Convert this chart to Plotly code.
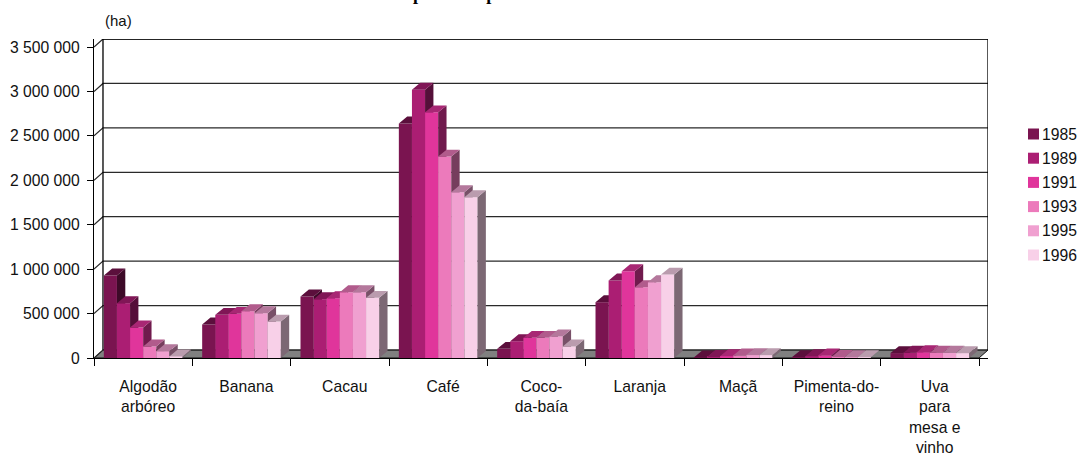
import plotly.graph_objects as go

categories = ["Algodão<br>arbóreo", "Banana", "Cacau", "Café", "Coco-<br>da-baía", "Laranja", "Maçã", "Pimenta-do-<br>reino", "Uva<br>para<br>mesa e<br>vinho"]
years = ["1985", "1989", "1991", "1993", "1995", "1996"]
v1985 = [928000, 377000, 692000, 2640000, 103000, 628000, 6000, 10000, 55000]
v1989 = [617000, 486000, 662000, 3020000, 189000, 872000, 12000, 20000, 60000]
v1991 = [343000, 497000, 673000, 2765000, 227000, 976000, 20000, 30000, 65000]
v1993 = [129000, 527000, 740000, 2267000, 227000, 797000, 28000, 12000, 60000]
v1995 = [77000, 504000, 740000, 1865000, 242000, 853000, 33000, 8000, 60000]
v1996 = [17000, 410000, 677000, 1810000, 129000, 939000, 33000, 8000, 55000]
series = [v1985, v1989, v1991, v1993, v1995, v1996]
colors = ["#7A1450", "#AB1E73", "#E0359B", "#EC7ABB", "#F0A0D0", "#F8D0E8"]
y_ticks = [0, 500000, 1000000, 1500000, 2000000, 2500000, 3000000, 3500000]
y_labels = ["0", "500 000", "1 000 000", "1 500 000", "2 000 000", "2 500 000", "3 000 000", "3 500 000"]

N = len(categories)
WALL_DX, WALL_DY = 0.0914, 90000
BAR_DX, BAR_DY = 0.085, 78000
BAR_W = 0.8 / 6
XMAX, YMAX = N + WALL_DX, 3590000
LABEL_SHIFT = 0.05
FONT = "Liberation Sans, Arial, sans-serif"
L, R, T, B = 94, 90, 39, 97
PW, PH = 1078 - L - R, 455 - T - B


def px(x):
    return (x - L) / PW


def py(y):
    return 1 - (y - T) / PH


def shade(hex_color, f):
    r, g, b = [int(hex_color[i:i + 2], 16) for i in (1, 3, 5)]
    return f"rgb({int(r * f)},{int(g * f)},{int(b * f)})"


fig = go.Figure()

# floor and walls, on the base axes
fig.add_trace(go.Scatter(
    x=[0, N, N + WALL_DX, WALL_DX, 0], y=[0, 0, WALL_DY, WALL_DY, 0],
    mode="lines", fill="toself", fillcolor="#808080", line=dict(color="#111", width=1),
    showlegend=False, hoverinfo="skip"))
gx, gy = [], []
for t in y_ticks:
    gx += [0, WALL_DX, XMAX, None]
    gy += [t, t + WALL_DY, t + WALL_DY, None]
fig.add_trace(go.Scatter(x=gx, y=gy, mode="lines", line=dict(color="#2a2a2a", width=1.2),
                         showlegend=False, hoverinfo="skip"))
fig.add_trace(go.Scatter(
    x=[WALL_DX, WALL_DX, XMAX, XMAX],
    y=[WALL_DY, YMAX, YMAX, WALL_DY],
    mode="lines", line=dict(color="black", width=1.3), showlegend=False, hoverinfo="skip"))

layout_axes = {}
shapes, annotations = [], []
for j, (year, values, color) in enumerate(zip(years, series, colors)):
    n = j + 2
    xa, ya = f"x{n}", f"y{n}"
    off = -0.4 + j * BAR_W
    fig.add_trace(go.Bar(
        x=[i + 0.5 for i in range(N)], y=values, width=BAR_W, offset=off,
        marker=dict(color=color, line=dict(width=0)), name=year, showlegend=False,
        xaxis=xa, yaxis=ya))
    sx, sy, tx, ty = [], [], [], []
    for i, v in enumerate(values):
        left = i + 0.5 + off
        right = left + BAR_W
        sx += [right, right + BAR_DX, right + BAR_DX, right, right, None]
        sy += [0, BAR_DY, v + BAR_DY, v, 0, None]
        tx += [left, right, right + BAR_DX, left + BAR_DX, left, None]
        ty += [v, v, v + BAR_DY, v + BAR_DY, v, None]
    fig.add_trace(go.Scatter(x=sx, y=sy, mode="lines", fill="toself", fillcolor=shade(color, 0.5),
                             line=dict(width=0), xaxis=xa, yaxis=ya,
                             showlegend=False, hoverinfo="skip"))
    fig.add_trace(go.Scatter(x=tx, y=ty, mode="lines", fill="toself", fillcolor=shade(color, 0.75),
                             line=dict(width=0), xaxis=xa, yaxis=ya,
                             showlegend=False, hoverinfo="skip"))
    layout_axes[f"xaxis{n}"] = dict(overlaying="x", range=[0, XMAX], visible=False, fixedrange=True)
    layout_axes[f"yaxis{n}"] = dict(overlaying="y", range=[0, YMAX], visible=False, fixedrange=True)
    # legend rows
    cy = 134 + 24.2 * j
    shapes.append(dict(type="rect", xref="paper", yref="paper", x0=px(1028), x1=px(1039),
                       y0=py(cy - 5.5), y1=py(cy + 5.5), fillcolor=color, line=dict(width=0)))
    annotations.append(dict(text=year, xref="paper", yref="paper", x=px(1041), y=py(cy),
                            xanchor="left", yanchor="middle", showarrow=False, xshift=-1,
                            font=dict(size=15.7)))

annotations.append(dict(text="(ha)", xref="paper", yref="paper", x=px(103), y=py(21),
                        xanchor="left", yanchor="middle", showarrow=False, font=dict(size=15)))
annotations.append(dict(text="<b>produtos permanentes</b>", xref="paper", yref="paper", x=px(411), y=py(6),
                        xanchor="left", yanchor="bottom", showarrow=False,
                        font=dict(family="Liberation Serif, Times New Roman, serif", size=18, color="black")))

fig.update_layout(
    width=1078, height=455,
    margin=dict(l=L, r=R, t=T, b=B, pad=0, autoexpand=False),
    paper_bgcolor="white", plot_bgcolor="white",
    font=dict(family=FONT, size=15.7, color="#111"),
    barmode="overlay", showlegend=False,
    xaxis=dict(range=[0, XMAX], tickmode="array", tickvals=[i + 0.5 + LABEL_SHIFT for i in range(N)], ticktext=categories,
               ticks="", ticklabelstandoff=14, showgrid=False, zeroline=False,
               showline=True, linecolor="black", linewidth=1.3,
               minor=dict(tickmode="array", tickvals=list(range(N + 1)), ticks="outside", ticklen=7,
                          tickcolor="black", tickwidth=1.3, showgrid=False),
               fixedrange=True),
    yaxis=dict(range=[0, YMAX], tickmode="array", tickvals=y_ticks, ticktext=y_labels,
               ticks="outside", ticklen=6, tickcolor="black", tickwidth=1.2, ticklabelstandoff=4,
               showgrid=False, zeroline=False, showline=True, linecolor="black", linewidth=1.3,
               fixedrange=True),
    shapes=shapes, annotations=annotations,
    **layout_axes)

fig.write_html("out.html", config={"displayModeBar": False},
               post_script="document.body.style.margin='0';document.body.style.overflow='hidden';")
